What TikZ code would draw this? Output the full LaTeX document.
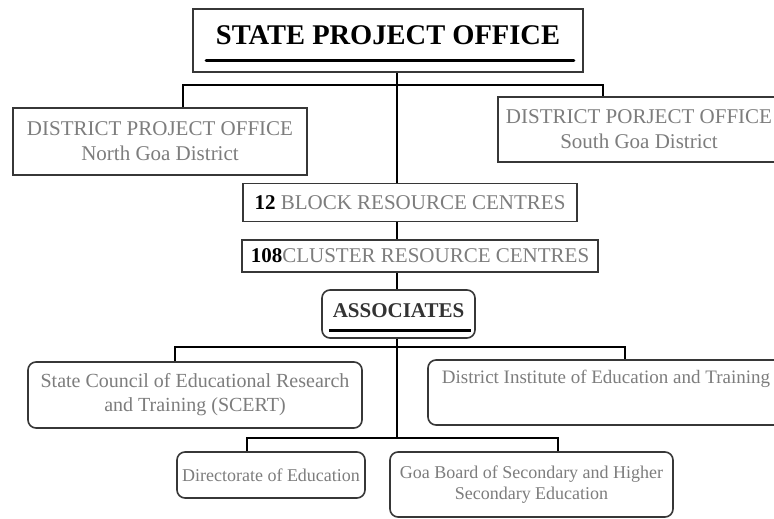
\documentclass[tikz,border=0pt]{standalone}
\usepackage{fontspec}
\setmainfont{Liberation Serif}
\definecolor{txtgray}{RGB}{125,125,125}
\definecolor{boxline}{RGB}{55,55,55}
\tikzset{
  sq/.style={draw=boxline, line width=1.6pt, rectangle, inner sep=0pt, align=center, text=txtgray},
  rd/.style={sq, rounded corners=8pt},
  conn/.style={draw=black, line width=1.5pt},
  big/.style={font=\fontsize{21}{25}\selectfont},
  mid/.style={font=\fontsize{20}{24}\selectfont},
  small/.style={font=\fontsize{18}{20.5}\selectfont}
}
\begin{document}
\begin{tikzpicture}[x=1pt,y=-1pt]
\clip (0,0) rectangle (774,519);
\fill[white] (0,0) rectangle (774,519);

% State project office
\node[sq, minimum width=390pt, minimum height=63pt, text=black, text height=18pt, text depth=9pt,
      font=\fontsize{28.5}{30}\selectfont\bfseries] (state) at (388,40.5) {STATE PROJECT OFFICE};
\draw[line width=3pt, line cap=round] ([xshift=14pt,yshift=12pt]state.south west) -- ([xshift=-10pt,yshift=12pt]state.south east);

% District offices
\node[sq, big, minimum width=294pt, minimum height=67pt] (dpon) at (160,141.5) {DISTRICT PROJECT OFFICE\\North Goa District};
\node[sq, big, minimum width=282pt, minimum height=65pt] (dpos) at (639,129.5) {DISTRICT PORJECT OFFICE\\South Goa District};

% Resource centres
\node[sq, big, minimum width=334pt, minimum height=38pt] (block) at (410,202.5) {\textcolor{black}{\bfseries 12} BLOCK RESOURCE CENTRES};
\node[sq, big, minimum width=356pt, minimum height=32pt] (cluster) at (420,256) {\textcolor{black}{\bfseries 108}CLUSTER RESOURCE CENTRES};

% Associates
\node[rd, big, minimum width=153pt, minimum height=48pt, text=black!80, text height=15pt, text depth=9pt, font=\fontsize{21}{25}\selectfont\bfseries] (assoc) at (398.5,314) {ASSOCIATES};
\draw[line width=3pt] ([xshift=8pt,yshift=8pt]assoc.south west) -- ([xshift=-5pt,yshift=8pt]assoc.south east);

% Associates' members
\node[rd, mid, minimum width=334pt, minimum height=66pt] (scert) at (195,395) {State Council of Educational Research\\and Training (SCERT)};
\node[rd, minimum width=356pt, minimum height=65pt, font=\fontsize{19}{24}\selectfont] (diet) at (606,392.5) {District Institute of Education and Training\\\strut};
\node[rd, small, minimum width=188pt, minimum height=46pt] (dir) at (271,475) {Directorate of Education};
\node[rd, small, minimum width=283pt, minimum height=65pt] (goa) at (531.5,484.5) {Goa Board of Secondary and Higher\\Secondary Education};

% Connector points
\coordinate (t1) at (397,85);
\coordinate (bl) at (183,85);
\coordinate (br) at (603,85);
\coordinate (t2) at (397,347);
\coordinate (cl) at (175,347);
\coordinate (cr) at (625,347);
\coordinate (t3) at (397,438);
\coordinate (dl) at (247,438);
\coordinate (dr) at (558,438);

% Connectors
\draw[conn] (t1 |- state.south) -- (t1);
\draw[conn] (bl |- dpon.north) -- (bl) -- (br) -- (br |- dpos.north);
\draw[conn] (t1) -- (t1 |- block.north);
\draw[conn] (t1 |- block.south) -- (t1 |- cluster.north);
\draw[conn] (t1 |- cluster.south) -- (t1 |- assoc.north);
\draw[conn] (t2 |- assoc.south) -- (t2);
\draw[conn] (cl |- scert.north) -- (cl) -- (cr) -- (cr |- diet.north);
\draw[conn] (t2) -- (t3);
\draw[conn] (dl |- dir.north) -- (dl) -- (dr) -- (dr |- goa.north);
\end{tikzpicture}
\end{document}
